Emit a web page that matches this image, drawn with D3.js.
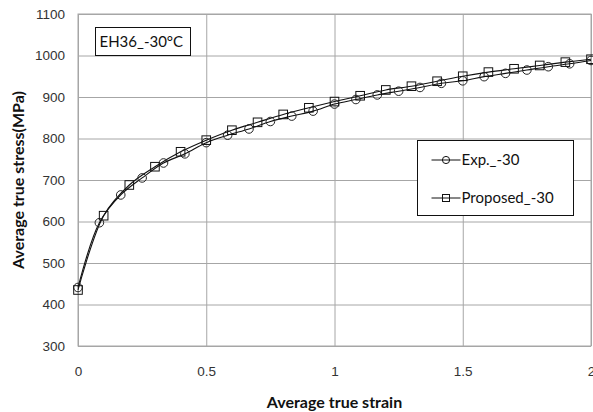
<!DOCTYPE html>
<html>
<head>
<meta charset="utf-8">
<script src="https://d3js.org/d3.v7.min.js"></script>
<style>
  body { margin: 0; background: #fff; }
  svg { display: block; font-family: Lato, 'Open Sans', sans-serif; }
  .axis text { font-size: 13.5px; fill: #333; }
  .axis line { stroke: #a6a6a6; }
  .axis .domain { display: none; }
  .title { font-size: 16px; font-weight: bold; fill: #111; }
</style>
</head>
<body>
<div id="chart"></div>
<script>
// Exp. points every 1/12 strain, Proposed points every 0.1 strain
var expStrain = d3.range(25).map(function(i) { return i / 12; });
var expStress = [441, 597, 664, 705, 741, 763, 790, 808, 823, 841, 854, 866, 883,
                 894, 905, 914, 923, 933, 939, 949, 957, 965, 973, 980, 988];
var propStrain = [0, 0.1, 0.2, 0.3, 0.4, 0.5, 0.6, 0.7, 0.8, 0.9, 1.0,
                  1.1, 1.2, 1.3, 1.4, 1.5, 1.6, 1.7, 1.8, 1.9, 2.0];
var propStress = [435, 614, 688, 732, 768, 796, 820, 839, 858, 874, 889,
                  903, 917, 926, 938, 950, 960, 968, 976, 984, 991];
var seriesNames = ['Exp._-30', 'Proposed_-30'];
var xTicks = [0, 0.5, 1, 1.5, 2];
var yTicks = [300, 400, 500, 600, 700, 800, 900, 1000, 1100];
var boxLabel = 'EH36_-30\u00B0C';

var margin = {top: 14, right: 2, bottom: 66, left: 78},
    width = 593 - margin.left - margin.right,
    height = 412 - margin.top - margin.bottom;

var svg = d3.select('#chart').append('svg')
    .attr('width', width + margin.left + margin.right)
    .attr('height', height + margin.top + margin.bottom);

var wrapper = svg.append('g')
    .attr('transform', 'translate(' + margin.left + ',' + margin.top + ')');

var xScale = d3.scaleLinear().domain([0, 2]).range([0, width]),
    yScale = d3.scaleLinear().domain([300, 1100]).range([height, 0]);

// gridlines + tick labels
wrapper.append('g')
    .attr('class', 'axis')
    .attr('transform', 'translate(0,' + height + ')')
    .call(d3.axisBottom(xScale).tickValues(xTicks).tickSize(-height).tickPadding(20)
      .tickFormat(function(d) { return String(d); }));

wrapper.append('g')
    .attr('class', 'axis')
    .call(d3.axisLeft(yScale).tickValues(yTicks).tickSize(-width).tickPadding(13)
      .tickFormat(function(d) { return String(d); }));

wrapper.append('rect')
    .attr('width', width)
    .attr('height', height)
    .style('fill', 'none')
    .style('stroke', '#a6a6a6');

var expData = expStrain.map(function(x, i) { return {x: x, y: expStress[i]}; });
var propData = propStrain.map(function(x, i) { return {x: x, y: propStress[i]}; });

var line = d3.line()
    .curve(d3.curveCatmullRom.alpha(0.5))
    .x(function(d) { return xScale(d.x); })
    .y(function(d) { return yScale(d.y); });

[expData, propData].forEach(function(data) {
  wrapper.append('path')
      .datum(data)
      .attr('d', line)
      .style('fill', 'none')
      .style('stroke', '#111')
      .style('stroke-width', 1.1);
});

wrapper.selectAll('.exp')
    .data(expData)
  .enter().append('circle')
    .attr('class', 'exp')
    .attr('cx', function(d) { return xScale(d.x); })
    .attr('cy', function(d) { return yScale(d.y); })
    .attr('r', 4.3)
    .style('fill', 'none')
    .style('stroke', '#222');

wrapper.selectAll('.prop')
    .data(propData)
  .enter().append('rect')
    .attr('class', 'prop')
    .attr('x', function(d) { return xScale(d.x) - 4.3; })
    .attr('y', function(d) { return yScale(d.y) - 4.3; })
    .attr('width', 8.6)
    .attr('height', 8.6)
    .style('fill', 'none')
    .style('stroke', '#111');

// label box
var lab = svg.append('g').attr('transform', 'translate(95.5,27.5)');
lab.append('rect')
    .attr('width', 95)
    .attr('height', 28)
    .style('fill', '#fff')
    .style('stroke', '#111');
lab.append('text')
    .attr('x', 4)
    .attr('y', 19.5)
    .style('font-size', '15px')
    .style('fill', '#111')
    .text(boxLabel);

// legend
var legend = svg.append('g').attr('transform', 'translate(417.5,140.5)');
legend.append('rect')
    .attr('width', 156)
    .attr('height', 75)
    .style('fill', '#fff')
    .style('stroke', '#111');

var items = legend.selectAll('.item')
    .data(seriesNames)
  .enter().append('g')
    .attr('class', 'item')
    .attr('transform', function(d, i) { return 'translate(0,' + (19.5 + i * 38) + ')'; });

items.append('line')
    .attr('x1', 14)
    .attr('x2', 43)
    .style('stroke', '#111');

items.filter(function(d, i) { return i === 0; }).append('circle')
    .attr('cx', 28.5)
    .attr('r', 3.6)
    .style('fill', 'none')
    .style('stroke', '#111');

items.filter(function(d, i) { return i === 1; }).append('rect')
    .attr('x', 25)
    .attr('y', -3.5)
    .attr('width', 7)
    .attr('height', 7)
    .style('fill', 'none')
    .style('stroke', '#111');

items.append('text')
    .attr('x', 44)
    .attr('dy', '.35em')
    .style('font-size', '15px')
    .style('fill', '#111')
    .text(function(d) { return d; });

// axis titles
svg.append('text')
    .attr('class', 'title')
    .attr('x', margin.left + width / 2)
    .attr('y', 408)
    .style('text-anchor', 'middle')
    .text('Average true strain');

svg.append('text')
    .attr('class', 'title')
    .attr('transform', 'translate(24,' + (margin.top + height / 2) + ') rotate(-90)')
    .style('text-anchor', 'middle')
    .text('Average true stress(MPa)');
</script>
</body>
</html>
